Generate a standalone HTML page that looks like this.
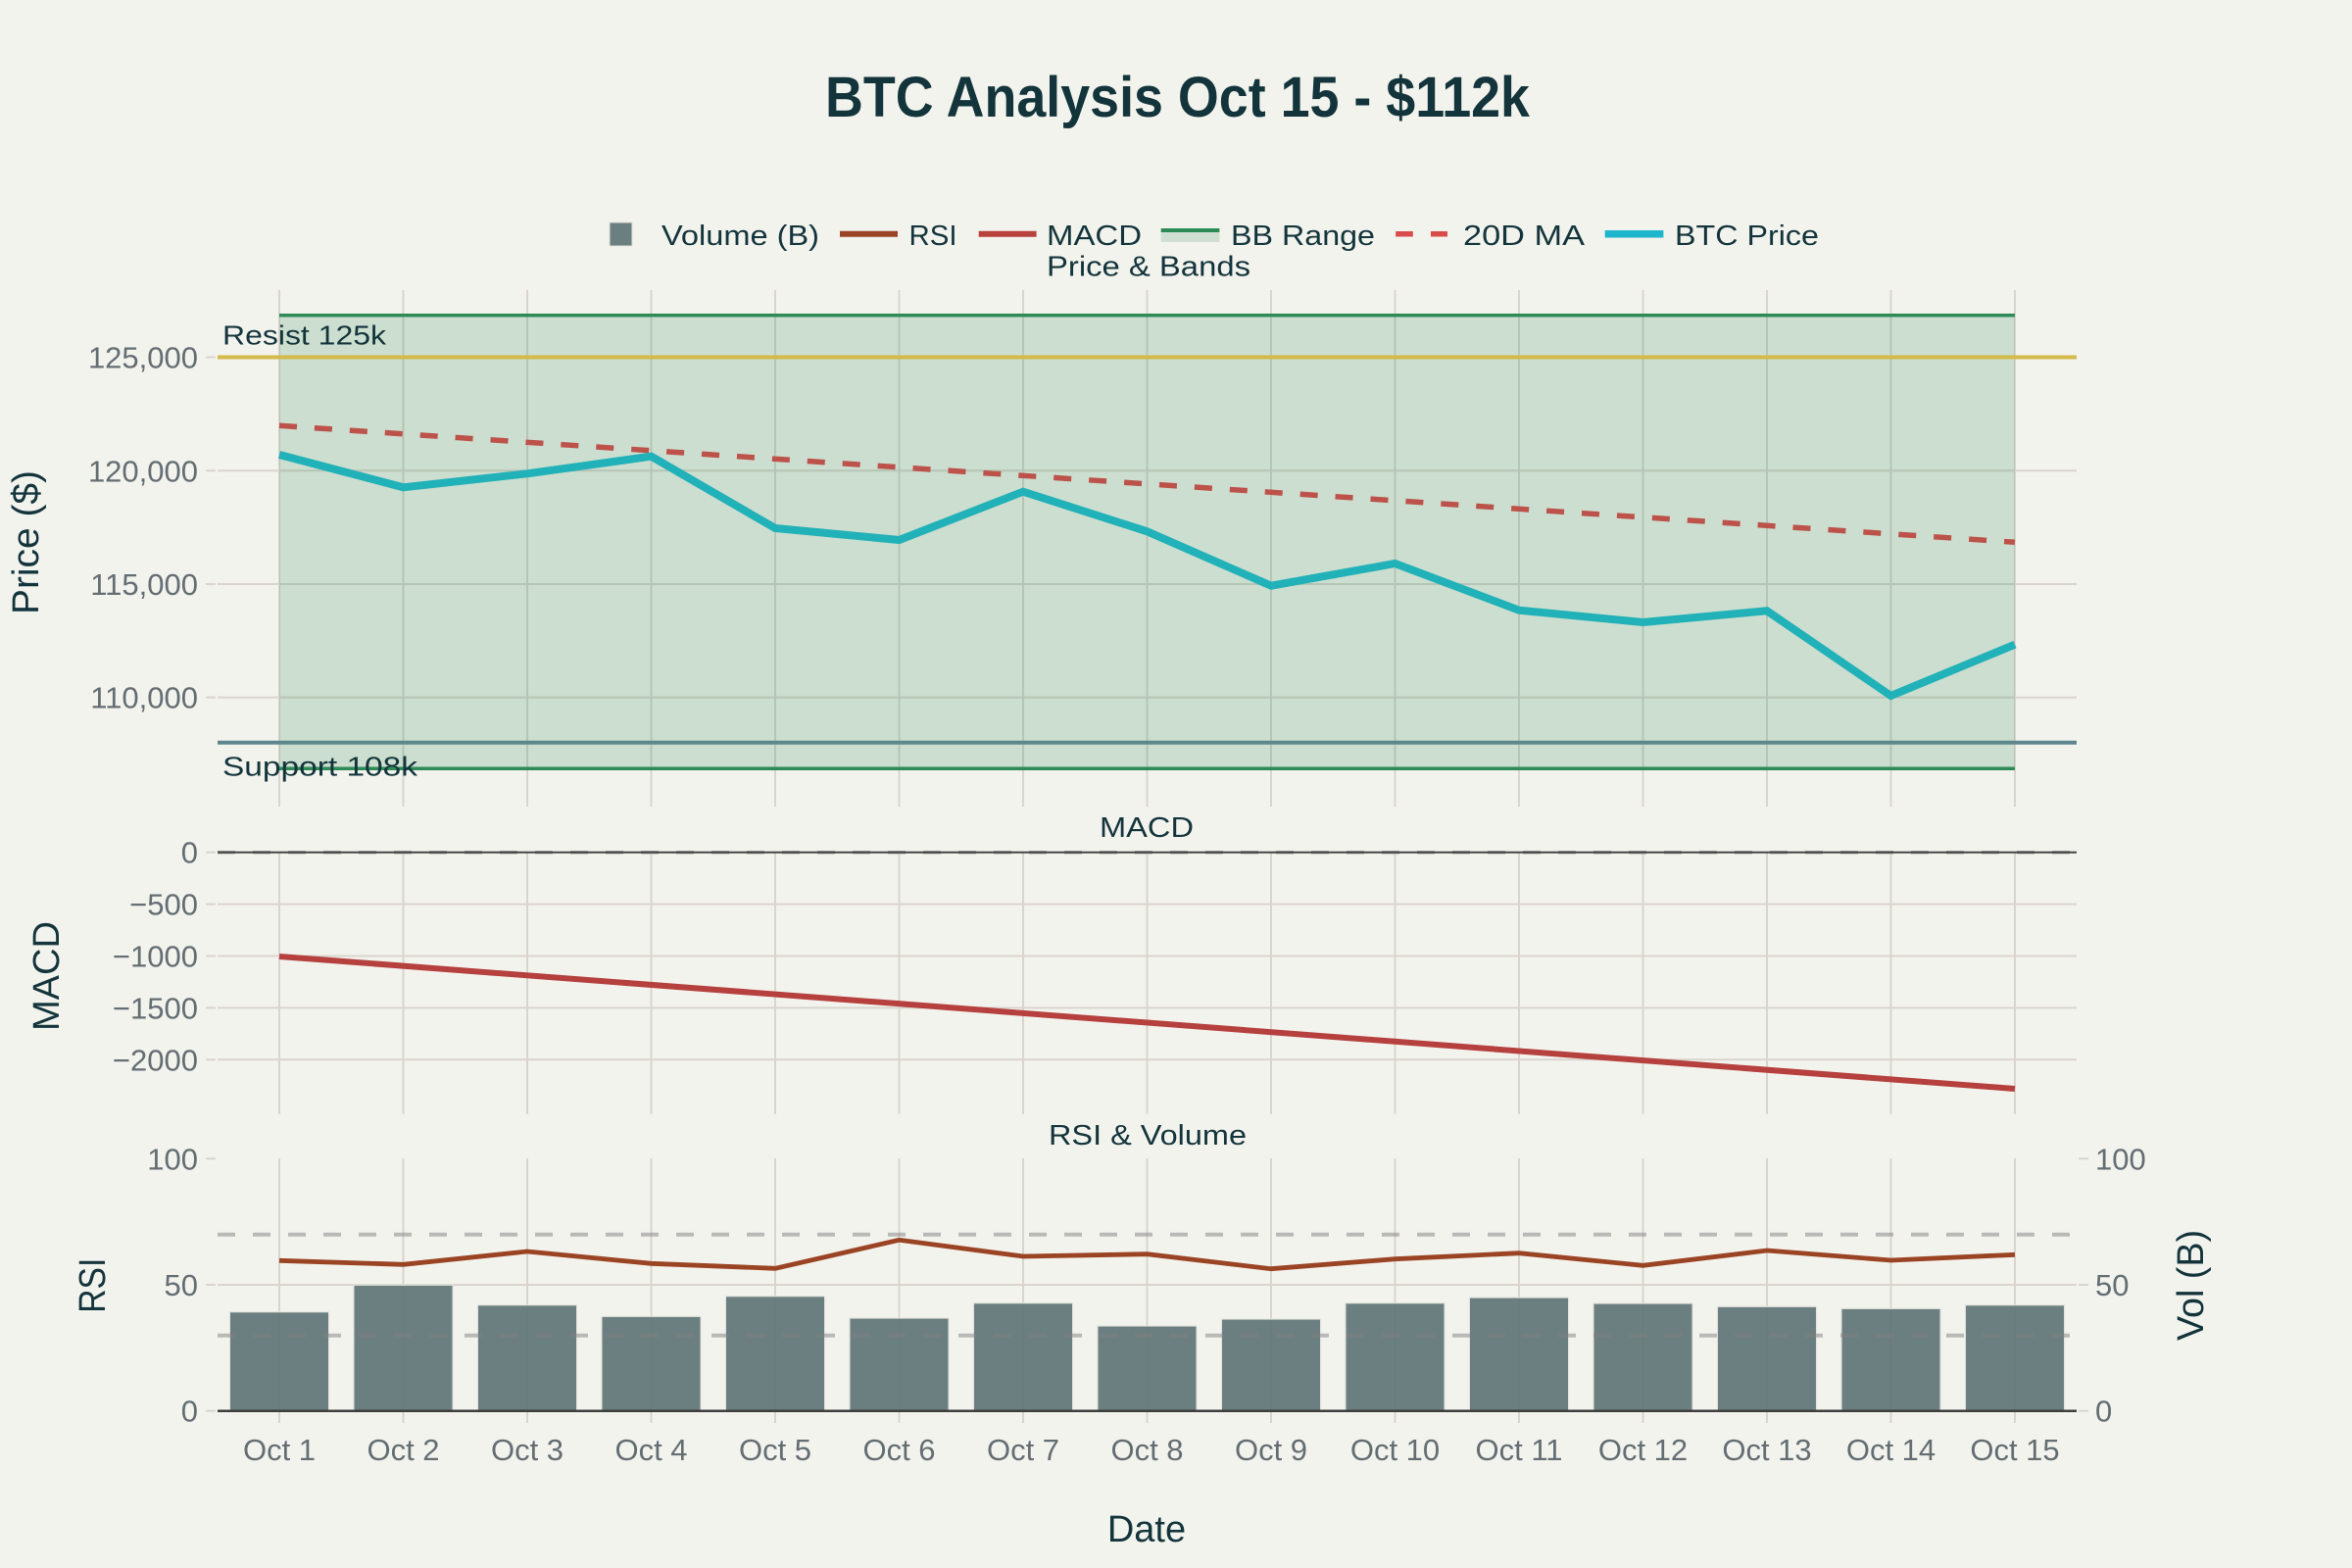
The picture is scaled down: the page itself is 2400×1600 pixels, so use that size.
<!DOCTYPE html>
<html><head><meta charset="utf-8"><style>
html,body{margin:0;padding:0;background:#F3F3EE;}
svg{display:block;}
text{font-family:"Liberation Sans",Arial,sans-serif;}
</style></head><body>
<svg width="2400" height="1600" viewBox="0 0 2400 1600" xmlns="http://www.w3.org/2000/svg">
<rect x="0" y="0" width="2400" height="1600" fill="#F3F3EE"/>

<!-- Title -->
<text x="842" y="119" font-size="58" font-weight="bold" fill="#13343B" textLength="719" lengthAdjust="spacingAndGlyphs">BTC Analysis Oct 15 - $112k</text>

<!-- Legend -->
<rect x="622" y="227" width="23" height="24" fill="#6C7F80" stroke="#E2E2DC" stroke-width="1"/>
<text x="675" y="250" font-size="29" fill="#13343B" textLength="161" lengthAdjust="spacingAndGlyphs">Volume (B)</text>
<line x1="857" y1="238.7" x2="916" y2="238.7" stroke="#9A4426" stroke-width="6"/>
<text x="927.5" y="250" font-size="29" fill="#13343B" textLength="49" lengthAdjust="spacingAndGlyphs">RSI</text>
<line x1="998.7" y1="238.7" x2="1057.6" y2="238.7" stroke="#B8403D" stroke-width="6"/>
<text x="1068" y="250" font-size="29" fill="#13343B" textLength="97" lengthAdjust="spacingAndGlyphs">MACD</text>
<rect x="1184.7" y="235" width="59.7" height="12" fill="#CFE0D2"/>
<line x1="1184.7" y1="235" x2="1244.4" y2="235" stroke="#2E8B57" stroke-width="4"/>
<text x="1256" y="250" font-size="29" fill="#13343B" textLength="147" lengthAdjust="spacingAndGlyphs">BB Range</text>
<line x1="1424.2" y1="238.7" x2="1441.8" y2="238.7" stroke="#D94A4A" stroke-width="5.5"/>
<line x1="1460" y1="238.7" x2="1477" y2="238.7" stroke="#D94A4A" stroke-width="5.5"/>
<text x="1493" y="250" font-size="29" fill="#13343B" textLength="124" lengthAdjust="spacingAndGlyphs">20D MA</text>
<line x1="1637.7" y1="238.7" x2="1697.4" y2="238.7" stroke="#1EB6CC" stroke-width="7.5"/>
<text x="1709" y="250" font-size="29" fill="#13343B" textLength="147" lengthAdjust="spacingAndGlyphs">BTC Price</text>

<!-- Subplot titles -->
<text x="1172" y="281.7" font-size="29" fill="#13343B" text-anchor="middle" textLength="208" lengthAdjust="spacingAndGlyphs">Price &amp; Bands</text>
<text x="1170" y="854" font-size="29" fill="#13343B" text-anchor="middle" textLength="96" lengthAdjust="spacingAndGlyphs">MACD</text>
<text x="1171" y="1168" font-size="29" fill="#13343B" text-anchor="middle" textLength="202" lengthAdjust="spacingAndGlyphs">RSI &amp; Volume</text>

<!-- ============ PRICE PANEL ============ -->
<g stroke="#D9D4CD" stroke-width="2">
  <line x1="222" y1="364.5" x2="2119" y2="364.5"/>
  <line x1="222" y1="480.3" x2="2119" y2="480.3"/>
  <line x1="222" y1="596" x2="2119" y2="596"/>
  <line x1="222" y1="711.6" x2="2119" y2="711.6"/>
  <line x1="210" y1="364.5" x2="220" y2="364.5"/>
  <line x1="210" y1="480.3" x2="220" y2="480.3"/>
  <line x1="210" y1="596" x2="220" y2="596"/>
  <line x1="210" y1="711.6" x2="220" y2="711.6"/>
  <line x1="285" y1="296" x2="285" y2="823"/>
  <line x1="411.5" y1="296" x2="411.5" y2="823"/>
  <line x1="538" y1="296" x2="538" y2="823"/>
  <line x1="664.5" y1="296" x2="664.5" y2="823"/>
  <line x1="791" y1="296" x2="791" y2="823"/>
  <line x1="917.5" y1="296" x2="917.5" y2="823"/>
  <line x1="1044" y1="296" x2="1044" y2="823"/>
  <line x1="1170.5" y1="296" x2="1170.5" y2="823"/>
  <line x1="1297" y1="296" x2="1297" y2="823"/>
  <line x1="1423.5" y1="296" x2="1423.5" y2="823"/>
  <line x1="1550" y1="296" x2="1550" y2="823"/>
  <line x1="1676.5" y1="296" x2="1676.5" y2="823"/>
  <line x1="1803" y1="296" x2="1803" y2="823"/>
  <line x1="1929.5" y1="296" x2="1929.5" y2="823"/>
  <line x1="2056" y1="296" x2="2056" y2="823"/>
</g>
<rect x="285" y="321.7" width="1771" height="462.6" fill="rgb(46,139,87)" fill-opacity="0.2"/>
<line x1="285" y1="321.7" x2="2056" y2="321.7" stroke="#2E8B57" stroke-width="3.5"/>
<line x1="285" y1="784.3" x2="2056" y2="784.3" stroke="#2E8B57" stroke-width="3.5"/>
<line x1="285" y1="434.3" x2="2056" y2="553.3" stroke="#BC5249" stroke-width="5.5" stroke-dasharray="18,18"/>
<polyline fill="none" stroke="#21B1B8" stroke-width="8" stroke-linejoin="miter" points="285,464 411.5,497.3 538,483.3 664.5,465.7 791,539 917.5,551 1044,501.7 1170.5,542.3 1297,597.7 1423.5,575 1550,622.7 1676.5,635 1803,623.3 1929.5,710 2056,657.7"/>
<line x1="222" y1="364.5" x2="2119" y2="364.5" stroke="#D4B94B" stroke-width="4"/>
<line x1="222" y1="757.7" x2="2119" y2="757.7" stroke="#5E878D" stroke-width="4"/>
<text x="227" y="351.7" font-size="28" fill="#13343B" textLength="167" lengthAdjust="spacingAndGlyphs">Resist 125k</text>
<text x="227" y="791.7" font-size="28" fill="#13343B" textLength="199" lengthAdjust="spacingAndGlyphs">Support 108k</text>

<g font-size="31" fill="#636D72" text-anchor="end">
  <text x="202" y="375.5">125,000</text>
  <text x="202" y="491.3">120,000</text>
  <text x="202" y="607">115,000</text>
  <text x="202" y="722.6">110,000</text>
</g>
<text x="39" y="553.5" font-size="38" fill="#13343B" text-anchor="middle" transform="rotate(-90 39 553.5)" textLength="147" lengthAdjust="spacingAndGlyphs">Price ($)</text>

<!-- ============ MACD PANEL ============ -->
<g stroke="#D9D4CD" stroke-width="2">
  <line x1="222" y1="922.6" x2="2119" y2="922.6"/>
  <line x1="222" y1="975.5" x2="2119" y2="975.5"/>
  <line x1="222" y1="1028.4" x2="2119" y2="1028.4"/>
  <line x1="222" y1="1081.3" x2="2119" y2="1081.3"/>
  <line x1="210" y1="869.7" x2="220" y2="869.7"/>
  <line x1="210" y1="922.6" x2="220" y2="922.6"/>
  <line x1="210" y1="975.5" x2="220" y2="975.5"/>
  <line x1="210" y1="1028.4" x2="220" y2="1028.4"/>
  <line x1="210" y1="1081.3" x2="220" y2="1081.3"/>
  <line x1="285" y1="869" x2="285" y2="1137"/>
  <line x1="411.5" y1="869" x2="411.5" y2="1137"/>
  <line x1="538" y1="869" x2="538" y2="1137"/>
  <line x1="664.5" y1="869" x2="664.5" y2="1137"/>
  <line x1="791" y1="869" x2="791" y2="1137"/>
  <line x1="917.5" y1="869" x2="917.5" y2="1137"/>
  <line x1="1044" y1="869" x2="1044" y2="1137"/>
  <line x1="1170.5" y1="869" x2="1170.5" y2="1137"/>
  <line x1="1297" y1="869" x2="1297" y2="1137"/>
  <line x1="1423.5" y1="869" x2="1423.5" y2="1137"/>
  <line x1="1550" y1="869" x2="1550" y2="1137"/>
  <line x1="1676.5" y1="869" x2="1676.5" y2="1137"/>
  <line x1="1803" y1="869" x2="1803" y2="1137"/>
  <line x1="1929.5" y1="869" x2="1929.5" y2="1137"/>
  <line x1="2056" y1="869" x2="2056" y2="1137"/>
</g>
<line x1="222" y1="869.7" x2="2119" y2="869.7" stroke="#A4A4A4" stroke-width="3.5" stroke-dasharray="18,18"/>
<line x1="222" y1="869.7" x2="2119" y2="869.7" stroke="#444444" stroke-width="2"/>
<line x1="285" y1="976" x2="2056" y2="1111" stroke="#B5403D" stroke-width="6"/>
<g font-size="31" fill="#636D72" text-anchor="end">
  <text x="202" y="880.7">0</text>
  <text x="202" y="933.6">−500</text>
  <text x="202" y="986.5">−1000</text>
  <text x="202" y="1039.4">−1500</text>
  <text x="202" y="1092.3">−2000</text>
</g>
<text x="60" y="996" font-size="38" fill="#13343B" text-anchor="middle" transform="rotate(-90 60 996)" textLength="112" lengthAdjust="spacingAndGlyphs">MACD</text>

<!-- ============ RSI PANEL ============ -->
<g stroke="#D9D4CD" stroke-width="2">
  <line x1="222" y1="1311" x2="2119" y2="1311"/>
  <line x1="210" y1="1182.3" x2="220" y2="1182.3"/>
  <line x1="210" y1="1311" x2="220" y2="1311"/>
  <line x1="210" y1="1439.7" x2="220" y2="1439.7"/>
  <line x1="2121" y1="1182.3" x2="2131" y2="1182.3"/>
  <line x1="2121" y1="1311" x2="2131" y2="1311"/>
  <line x1="2121" y1="1439.7" x2="2131" y2="1439.7"/>
  <line x1="285" y1="1182" x2="285" y2="1452"/>
  <line x1="411.5" y1="1182" x2="411.5" y2="1452"/>
  <line x1="538" y1="1182" x2="538" y2="1452"/>
  <line x1="664.5" y1="1182" x2="664.5" y2="1452"/>
  <line x1="791" y1="1182" x2="791" y2="1452"/>
  <line x1="917.5" y1="1182" x2="917.5" y2="1452"/>
  <line x1="1044" y1="1182" x2="1044" y2="1452"/>
  <line x1="1170.5" y1="1182" x2="1170.5" y2="1452"/>
  <line x1="1297" y1="1182" x2="1297" y2="1452"/>
  <line x1="1423.5" y1="1182" x2="1423.5" y2="1452"/>
  <line x1="1550" y1="1182" x2="1550" y2="1452"/>
  <line x1="1676.5" y1="1182" x2="1676.5" y2="1452"/>
  <line x1="1803" y1="1182" x2="1803" y2="1452"/>
  <line x1="1929.5" y1="1182" x2="1929.5" y2="1452"/>
  <line x1="2056" y1="1182" x2="2056" y2="1452"/>
</g>
<g fill="rgb(93,114,115)" fill-opacity="0.9" stroke="#E4E4DE" stroke-width="1.2">
  <rect x="234.4" y="1338.7" width="101.2" height="101"/>
  <rect x="360.9" y="1311.3" width="101.2" height="128.4"/>
  <rect x="487.4" y="1331.7" width="101.2" height="108"/>
  <rect x="613.9" y="1343.3" width="101.2" height="96.4"/>
  <rect x="740.4" y="1322.7" width="101.2" height="117"/>
  <rect x="866.9" y="1345" width="101.2" height="94.7"/>
  <rect x="993.4" y="1329.7" width="101.2" height="110"/>
  <rect x="1119.9" y="1353" width="101.2" height="86.7"/>
  <rect x="1246.4" y="1346" width="101.2" height="93.7"/>
  <rect x="1372.9" y="1329.7" width="101.2" height="110"/>
  <rect x="1499.4" y="1324" width="101.2" height="115.7"/>
  <rect x="1625.9" y="1330" width="101.2" height="109.7"/>
  <rect x="1752.4" y="1333.3" width="101.2" height="106.4"/>
  <rect x="1878.9" y="1335.3" width="101.2" height="104.4"/>
  <rect x="2005.4" y="1331.7" width="101.2" height="108"/>
</g>
<polyline fill="none" stroke="#9A4424" stroke-width="4.8" points="285,1286.3 411.5,1290.3 538,1277 664.5,1289.3 791,1294.3 917.5,1265.3 1044,1282 1170.5,1279.7 1297,1294.7 1423.5,1284.7 1550,1278.7 1676.5,1291.3 1803,1276 1929.5,1286 2056,1280.3"/>
<line x1="222" y1="1259.7" x2="2119" y2="1259.7" stroke="#808080" stroke-opacity="0.5" stroke-width="4" stroke-dasharray="18,18"/>
<line x1="222" y1="1362.7" x2="2119" y2="1362.7" stroke="#808080" stroke-opacity="0.5" stroke-width="4" stroke-dasharray="18,18"/>
<line x1="222" y1="1439.7" x2="2119" y2="1439.7" stroke="#3E3E3E" stroke-width="2.5"/>

<g font-size="31" fill="#636D72" text-anchor="end">
  <text x="202" y="1193.3">100</text>
  <text x="202" y="1322">50</text>
  <text x="202" y="1450.7">0</text>
</g>
<g font-size="31" fill="#636D72" text-anchor="start">
  <text x="2138" y="1193.3">100</text>
  <text x="2138" y="1322">50</text>
  <text x="2138" y="1450.7">0</text>
</g>
<text x="107" y="1311.7" font-size="38" fill="#13343B" text-anchor="middle" transform="rotate(-90 107 1311.7)" textLength="56" lengthAdjust="spacingAndGlyphs">RSI</text>
<text x="2248" y="1311.5" font-size="38" fill="#13343B" text-anchor="middle" transform="rotate(-90 2248 1311.5)" textLength="113" lengthAdjust="spacingAndGlyphs">Vol (B)</text>

<g font-size="31" fill="#636D72" text-anchor="middle">
  <text x="285" y="1490">Oct 1</text>
  <text x="411.5" y="1490">Oct 2</text>
  <text x="538" y="1490">Oct 3</text>
  <text x="664.5" y="1490">Oct 4</text>
  <text x="791" y="1490">Oct 5</text>
  <text x="917.5" y="1490">Oct 6</text>
  <text x="1044" y="1490">Oct 7</text>
  <text x="1170.5" y="1490">Oct 8</text>
  <text x="1297" y="1490">Oct 9</text>
  <text x="1423.5" y="1490">Oct 10</text>
  <text x="1550" y="1490">Oct 11</text>
  <text x="1676.5" y="1490">Oct 12</text>
  <text x="1803" y="1490">Oct 13</text>
  <text x="1929.5" y="1490">Oct 14</text>
  <text x="2056" y="1490">Oct 15</text>
</g>
<text x="1170" y="1573" font-size="38" fill="#13343B" text-anchor="middle">Date</text>
</svg>
</body></html>
